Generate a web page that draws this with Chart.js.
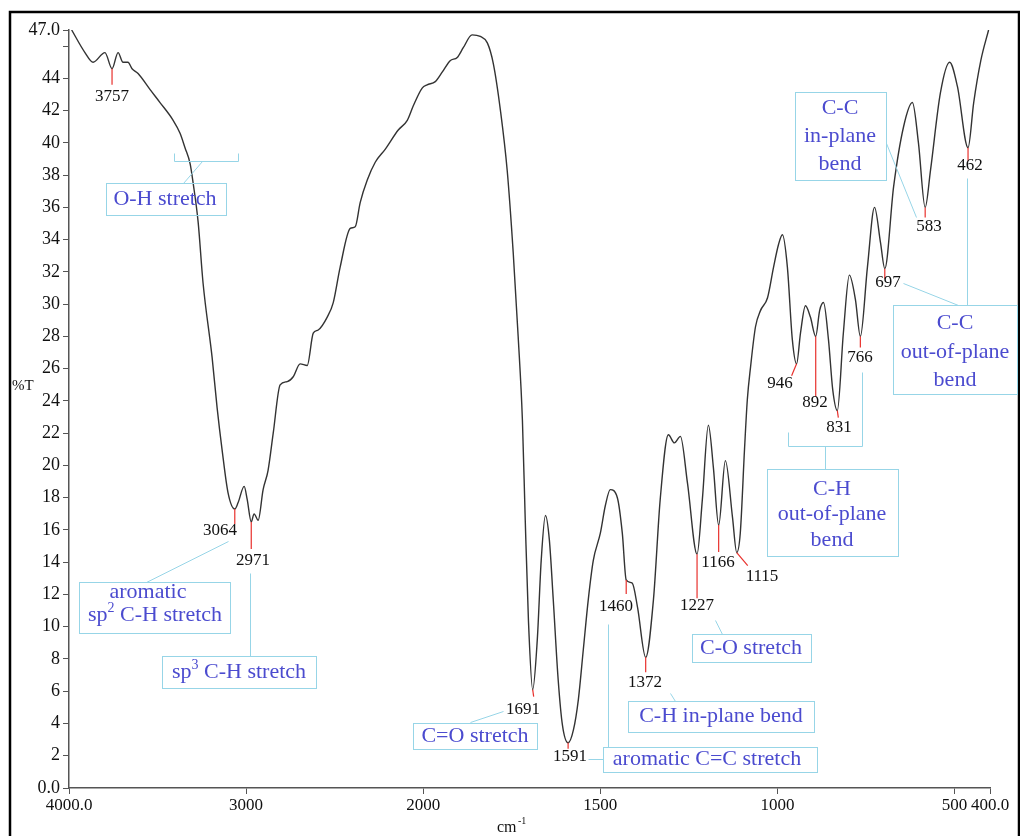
<!DOCTYPE html>
<html>
<head>
<meta charset="utf-8">
<script src="https://cdn.jsdelivr.net/npm/chart.js@4.4.1/dist/chart.umd.min.js"></script>
<style>
  body { margin: 0; background: #fff; }
  #wrap { position: relative; width: 1020px; height: 836px; }
</style>
</head>
<body>
<div id="wrap"><canvas id="irChart" width="1020" height="836"></canvas></div>
<script>
// IR spectrum (cm-1 / %T)
var wavenumbers = [3985, 3910, 3864, 3797, 3757, 3723, 3695, 3667, 3644, 3610, 3542, 3486, 3412, 3373, 3345, 3316, 3299, 3271, 3243, 3192,
    3164, 3136, 3102, 3064, 3045, 3011, 2994, 2971, 2955, 2932, 2904, 2876, 2847, 2808, 2768, 2734, 2695, 2655, 2621, 2593,
    2542, 2508, 2469, 2412, 2384, 2356, 2316, 2271, 2215, 2141, 2090, 2056, 2006, 1989, 1966, 1946, 1924, 1904, 1887, 1862,
    1839, 1819, 1802, 1782, 1763, 1746, 1732, 1720, 1712, 1703, 1691, 1678, 1667, 1655, 1644, 1633, 1619, 1607, 1591, 1576,
    1562, 1548, 1534, 1520, 1500, 1486, 1472, 1452, 1438, 1427, 1410, 1395, 1372, 1350, 1331, 1308, 1291, 1274, 1254, 1227,
    1212, 1195, 1181, 1166, 1147, 1127, 1115, 1105, 1093, 1085, 1076, 1062, 1048, 1028, 1011, 997, 986, 972, 958, 946,
    935, 921, 907, 892, 881, 870, 856, 844, 831, 814, 797, 780, 766, 746, 726, 709, 697, 672, 644, 619,
    602, 583, 568, 540, 514, 492, 462, 446, 426, 404];
var transmittance = [47.0, 45.6, 45.0, 45.6, 44.6, 45.6, 45.0, 45.0, 44.6, 44.3, 43.3, 42.5, 41.4, 40.6, 39.7, 38.7, 37.5, 35.1, 31.3, 26.7,
    23.6, 21.0, 18.3, 17.3, 17.7, 18.7, 17.9, 16.5, 17.0, 16.6, 18.5, 19.7, 22.0, 25.0, 25.2, 25.5, 26.3, 26.2, 28.2, 28.4,
    29.2, 30.1, 32.3, 34.7, 34.8, 36.3, 37.7, 38.8, 39.6, 40.8, 41.4, 42.3, 43.4, 43.6, 43.8, 44.4, 45.1, 45.3, 45.9, 46.7,
    46.6, 46.2, 44.9, 42.0, 38.3, 33.2, 28.0, 22.8, 16.6, 10.4, 6.1, 9.2, 14.1, 16.9, 15.4, 11.7, 6.7, 3.9, 2.8, 3.6,
    5.5, 8.6, 11.7, 14.1, 15.8, 17.5, 18.5, 18.0, 15.8, 12.9, 12.7, 11.2, 8.1, 11.7, 17.9, 21.9, 21.4, 21.8, 18.9, 14.5,
    17.9, 22.5, 19.9, 16.3, 20.3, 16.8, 14.6, 15.8, 21.0, 24.1, 26.1, 28.6, 29.6, 30.4, 32.3, 33.7, 34.3, 32.3, 27.8, 26.3,
    28.2, 29.9, 29.2, 28.0, 29.6, 30.1, 27.8, 24.7, 23.4, 28.2, 31.8, 30.3, 28.0, 32.3, 36.0, 33.8, 32.2, 37.3, 41.0, 42.5,
    40.0, 36.0, 38.3, 43.1, 45.0, 43.5, 39.7, 42.5, 45.1, 47.0];

var xTickValues = [4000, 3000, 2000, 1500, 1000, 500, 400];
var xTickLabels = ['4000.0', '3000', '2000', '1500', '1000', '500', '400.0'];
var yTickValues = [0, 2, 4, 6, 8, 10, 12, 14, 16, 18, 20, 22, 24, 26, 28, 30, 32, 34, 36, 38, 40, 42, 44, 46, 47];

// picked peaks: where the red mark sits, and the printed number
var peakAt = [3757, 3064, 2971, 1691, 1591, 1427, 1372, 1227, 1166, 1115, 946, 892, 831, 766, 697, 583, 462];
var peakText = ['3757', '3064', '2971', '1691', '1591', '1460', '1372', '1227', '1166', '1115', '946', '892', '831', '766', '697', '583', '462'];

// wavenumber axis is compressed 2x above 2000 cm-1
function axisPos(w) {
    return w >= 2000 ? 4000 - w : 2000 + (2000 - w) * 2;
}

function valueAt(w) {
    for (var i = 0; i < wavenumbers.length - 1; i++) {
        var a = wavenumbers[i], b = wavenumbers[i + 1];
        if (w <= a && w >= b) {
            var t = (a - w) / (a - b);
            return transmittance[i] + t * (transmittance[i + 1] - transmittance[i]);
        }
    }
    return transmittance[transmittance.length - 1];
}

var serif = '"Liberation Serif", "Times New Roman", serif';
var boxColor = '#97d5e7';
var noteColor = '#4b4bcf';

// red tick end offset (px) from the curve, and label centre (px)
var peakMarks = [
    { end: [0, 16], label: [112, 97] },
    { end: [0, 15], label: [220, 531] },
    { end: [0, 27], label: [253, 561] },
    { end: [1, 7], label: [523, 710] },
    { end: [0, 6], label: [570, 757] },
    { end: [0, 14], label: [616, 607] },
    { end: [0, 15], label: [645, 683] },
    { end: [0, 44], label: [697, 606] },
    { end: [0, 27], label: [718, 563] },
    { end: [11, 13], label: [762, 577] },
    { end: [-5, 12], label: [780, 384] },
    { end: [0, 60], label: [815, 403] },
    { end: [1, 7], label: [839, 428] },
    { end: [0, 11], label: [860, 358] },
    { end: [0, 10], label: [888, 283] },
    { end: [0, 10], label: [929, 227] },
    { end: [0, 13], label: [970, 166] }
];

// note boxes: rect, text lines (centre x, y); a line is a list of [text, superscript?]
var notes = [
    { rect: [106, 183, 120, 32], lines: [[165, 199, [['O-H stretch']]]] },
    { rect: [79, 582, 151, 51], lines: [[148, 592, [['aromatic']]], [155, 615, [['sp'], ['2', true], [' C-H stretch']]]] },
    { rect: [162, 656, 154, 32], lines: [[239, 672, [['sp'], ['3', true], [' C-H stretch']]]] },
    { rect: [413, 723, 124, 26], lines: [[475, 736, [['C=O stretch']]]] },
    { rect: [603, 747, 214, 25], lines: [[707, 759, [['aromatic C=C stretch']]]] },
    { rect: [628, 701, 186, 31], lines: [[721, 716, [['C-H in-plane bend']]]] },
    { rect: [692, 634, 119, 28], lines: [[751, 648, [['C-O stretch']]]] },
    { rect: [767, 469, 131, 87], lines: [[832, 489, [['C-H']]], [832, 514, [['out-of-plane']]], [832, 540, [['bend']]]] },
    { rect: [795, 92, 91, 88], lines: [[840, 108, [['C-C']]], [840, 136, [['in-plane']]], [840, 164, [['bend']]]] },
    { rect: [893, 305, 124, 89], lines: [[955, 323, [['C-C']]], [955, 352, [['out-of-plane']]], [955, 380, [['bend']]]] }
];

var leaders = [
    [[174, 153], [174, 161], [238, 161], [238, 153]],
    [[202, 161], [183, 183]],
    [[146, 582], [228, 541]],
    [[250, 573], [250, 656]],
    [[470, 722], [503, 711]],
    [[588, 759], [603, 759]],
    [[608, 624], [608, 747]],
    [[670, 693], [675, 701]],
    [[715, 620], [722, 634]],
    [[788, 432], [788, 446], [862, 446], [862, 372]],
    [[825, 446], [825, 469]],
    [[886, 143], [916, 217]],
    [[967, 178], [967, 305]],
    [[903, 283], [958, 305]]
];

function drawRich(ctx, cx, cy, parts) {
    var big = '22px ' + serif, small = '14px ' + serif;
    var total = 0;
    parts.forEach(function (p) {
        ctx.font = p[1] ? small : big;
        total += ctx.measureText(p[0]).width;
    });
    var x = cx - total / 2;
    parts.forEach(function (p) {
        ctx.font = p[1] ? small : big;
        ctx.fillText(p[0], x, p[1] ? cy - 7 : cy);
        x += ctx.measureText(p[0]).width;
    });
}

var annotate = {
    id: 'annotate',
    afterDraw: function (chart) {
        var ctx = chart.ctx, xs = chart.scales.x, ys = chart.scales.y;
        ctx.save();

        // outer frame
        ctx.strokeStyle = '#000';
        ctx.lineWidth = 2.5;
        ctx.strokeRect(10, 12, 1009, 834);

        // axis titles
        ctx.fillStyle = '#111';
        ctx.textBaseline = 'middle';
        ctx.textAlign = 'left';
        ctx.font = '15px ' + serif;
        ctx.fillText('%T', 12, 386);
        ctx.font = '16px ' + serif;
        ctx.fillText('cm', 497, 828);
        ctx.font = '10px ' + serif;
        ctx.fillText('-1', 518, 821);

        // leader lines and boxes
        ctx.strokeStyle = boxColor;
        ctx.lineWidth = 1;
        leaders.forEach(function (pts) {
            ctx.beginPath();
            pts.forEach(function (p, i) {
                if (i === 0) ctx.moveTo(p[0] + 0.5, p[1] + 0.5);
                else ctx.lineTo(p[0] + 0.5, p[1] + 0.5);
            });
            ctx.stroke();
        });
        notes.forEach(function (n) {
            ctx.strokeRect(n.rect[0] + 0.5, n.rect[1] + 0.5, n.rect[2], n.rect[3]);
        });

        ctx.fillStyle = noteColor;
        ctx.textAlign = 'left';
        notes.forEach(function (n) {
            n.lines.forEach(function (l) {
                drawRich(ctx, l[0], l[1], l[2]);
            });
        });

        // peak picks
        ctx.font = '17px ' + serif;
        ctx.textAlign = 'center';
        peakAt.forEach(function (w, i) {
            var px = xs.getPixelForValue(axisPos(w));
            var py = ys.getPixelForValue(valueAt(w));
            var m = peakMarks[i];
            ctx.strokeStyle = '#e8302c';
            ctx.lineWidth = 1.2;
            ctx.beginPath();
            ctx.moveTo(px, py);
            ctx.lineTo(px + m.end[0], py + m.end[1]);
            ctx.stroke();
            ctx.fillStyle = '#111';
            ctx.fillText(peakText[i], m.label[0], m.label[1]);
        });

        ctx.restore();
    }
};

var points = wavenumbers.map(function (w, i) {
    return { x: axisPos(w), y: transmittance[i] };
});

var ctxIR = document.getElementById('irChart').getContext('2d');
var irChart = new Chart(ctxIR, {
    type: 'line',
    data: {
        datasets: [{
            label: '%T',
            data: points,
            borderColor: '#333',
            borderWidth: 1.4,
            pointRadius: 0,
            fill: false,
            cubicInterpolationMode: 'monotone'
        }]
    },
    options: {
        responsive: false,
        maintainAspectRatio: false,
        animation: false,
        layout: { padding: { left: 0, right: 30, top: 30, bottom: 0 } },
        plugins: {
            legend: { display: false },
            tooltip: { enabled: false }
        },
        scales: {
            x: {
                type: 'linear',
                min: 0,
                max: axisPos(400),
                afterBuildTicks: function (scale) {
                    scale.ticks = xTickValues.map(function (w) { return { value: axisPos(w) }; });
                },
                afterFit: function (scale) { scale.height = 48; },
                ticks: {
                    autoSkip: false,
                    maxRotation: 0,
                    padding: 1,
                    color: '#111',
                    font: { family: serif, size: 17 },
                    callback: function (value, index) { return xTickLabels[index]; }
                },
                grid: { drawOnChartArea: false, drawTicks: true, tickLength: 6, color: '#555' },
                border: { color: '#555', width: 1.5 }
            },
            y: {
                min: 0,
                max: 47,
                afterBuildTicks: function (scale) {
                    scale.ticks = yTickValues.map(function (v) { return { value: v }; });
                },
                afterFit: function (scale) { scale.width = 69; },
                ticks: {
                    autoSkip: false,
                    padding: 3,
                    color: '#111',
                    font: { family: serif, size: 18 },
                    callback: function (value) {
                        if (value === 0) return '0.0';
                        if (value === 47) return '47.0';
                        if (value === 46) return '';
                        return String(value);
                    }
                },
                grid: { drawOnChartArea: false, drawTicks: true, tickLength: 6, color: '#555' },
                border: { color: '#555', width: 1.5 }
            }
        }
    },
    plugins: [annotate]
});
</script>
</body>
</html>
